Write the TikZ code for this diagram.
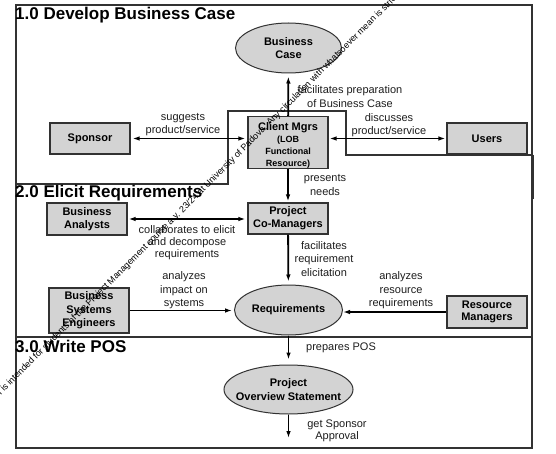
\documentclass[tikz,border=0pt]{standalone}
\usepackage{fontspec}
\setmainfont{Liberation Sans}
\usetikzlibrary{shapes.geometric,arrows.meta}
\definecolor{boxfill}{RGB}{211,211,211}
\definecolor{edge}{RGB}{50,50,50}
\definecolor{txt}{RGB}{30,30,30}
\begin{document}
\begin{tikzpicture}[x=1pt,y=-1pt,
  box/.style={draw=edge, fill=boxfill, line width=1.2pt, inner sep=0pt, minimum width=80pt, align=center, font=\bfseries\fontsize{11}{13}\selectfont},
  oval/.style={ellipse, draw=edge, fill=boxfill, line width=1pt, inner sep=0pt, align=center, font=\bfseries\fontsize{11}{13.5}\selectfont},
  lbl/.style={inner sep=0pt, align=center, text=txt, font=\fontsize{11}{13.5}\selectfont},
  tip/.style={-{Latex[length=7pt,width=4.6pt]}, line width=1.8pt},
  dtip/.style={{Latex[length=7pt,width=4.6pt]}-{Latex[length=7pt,width=4.6pt]}, line width=1.8pt},
  region/.style={draw=edge, line width=1.3pt},
  title/.style={anchor=base west, inner sep=0pt, font=\bfseries\fontsize{17}{20}\selectfont},
  wmark/.style={anchor=base west, inner sep=0pt, rotate=45, font=\fontsize{9}{10}\selectfont}
]
\useasboundingbox (0,0) rectangle (556,454);
\fill[white] (0,0) rectangle (556,454);

% regions
\draw[region] (16,5) -- (532,5) -- (532,155) -- (346,155) -- (346,111) -- (228,111) -- (228,184) -- (16,184) -- cycle;
\draw[region] (16,184) -- (16,337) -- (532,337) -- (532,155);
\draw[region] (16,337) rectangle (532,448);
\draw[edge, line width=2.4pt] (532.5,155) -- (532.5,199);

% titles
\node[title] (t1) at (15,20) {1.0 Develop Business Case};
\node[title] (t2) at (15,198) {2.0 Elicit Requirements};
\node[title] (t3) at (15,352) {3.0 Write POS};

% nodes
\node[oval, minimum width=106pt, minimum height=50pt] (bc) at (288.5,48) {Business\\Case};
\node[box, minimum height=51pt, font=\bfseries\fontsize{9}{12.2}\selectfont] (cm) at (288,142.5)
  {{\fontsize{11}{13}\selectfont\rule{0pt}{13.5pt}Client Mgrs}\\(LOB\\Functional\\Resource)};
\node[box, minimum height=31pt] (sp) at (90,138.5) {Sponsor};
\node[box, minimum height=31pt] (us) at (487,138.5) {Users};
\node[box, minimum height=32pt] (ba) at (87,219) {Business\\Analysts};
\node[box, minimum height=31pt] (pcm) at (288,218.5) {Project\\Co-Managers};
\node[box, minimum height=45pt, font=\bfseries\fontsize{11}{13.4}\selectfont] (bse) at (89,310.5) {Business\\Systems\\Engineers};
\node[oval, minimum width=108pt, minimum height=50pt] (rq) at (288.5,310) {Requirements};
\node[box, minimum height=32pt, font=\bfseries\fontsize{11}{12.5}\selectfont] (rm) at (487,312) {Resource\\Managers};
\node[oval, minimum width=129pt, minimum height=49pt, font=\bfseries\fontsize{11}{14}\selectfont] (pos) at (288.5,389.5)
  {\makebox[0pt]{Project}\\\makebox[0pt]{Overview Statement}};
\coordinate (end) at (288.5,438);

% labels
\node[lbl] (l1) at (350,96.5) {facilitates preparation\\of Business Case};
\node[lbl] (l2) at (183,124.5) {suggests\\product/service};
\node[lbl] (l3) at (389,125) {discusses\\product/service};
\node[lbl] (l4) at (325,185) {presents\\needs};
\node[lbl, font=\fontsize{11}{12}\selectfont] (l5) at (187,243) {collaborates to elicit\\and decompose\\requirements};
\node[lbl] (l6) at (324,259) {facilitates\\requirement\\elicitation};
\node[lbl] (l7) at (184,290.5) {analyzes\\impact on\\systems};
\node[lbl] (l8) at (401,290.5) {analyzes\\resource\\requirements};
\node[lbl] (l9) at (341,348) {prepares POS};
\node[lbl, font=\fontsize{11}{12}\selectfont] (l10) at (337,431) {get Sponsor\\Approval};

% connectors
\draw[tip, shorten >=3pt] (cm) -- (bc);
\draw[dtip, shorten <=2pt, shorten >=2pt] (sp.east) -- (sp.east -| cm.west);
\draw[dtip, shorten <=1pt, shorten >=1pt] (cm.east |- us.west) -- (us.west);
\draw[tip, shorten >=1pt] (cm) -- (pcm);
\draw[dtip, shorten <=1pt, shorten >=2pt] (ba.east) -- (ba.east -| pcm.west);
\draw[tip, shorten >=3pt] (pcm) -- (rq);
\draw[tip, shorten >=2pt] (bse.east) -- (bse.east -| rq.west);
\draw[tip] (rm.west) -- (rm.west -| rq.east);
\draw[tip, shorten >=5pt] (rq) -- (pos);
\draw[tip] (pos) -- (end);

% watermark
\node[wmark] (wm) at (4,392) {\llap{tion }is intended for students of the Project Management course a.y. 23/24 at University of Padova. Any circulation with whatsoever mean is strictly forbidden};
\end{tikzpicture}
\end{document}
